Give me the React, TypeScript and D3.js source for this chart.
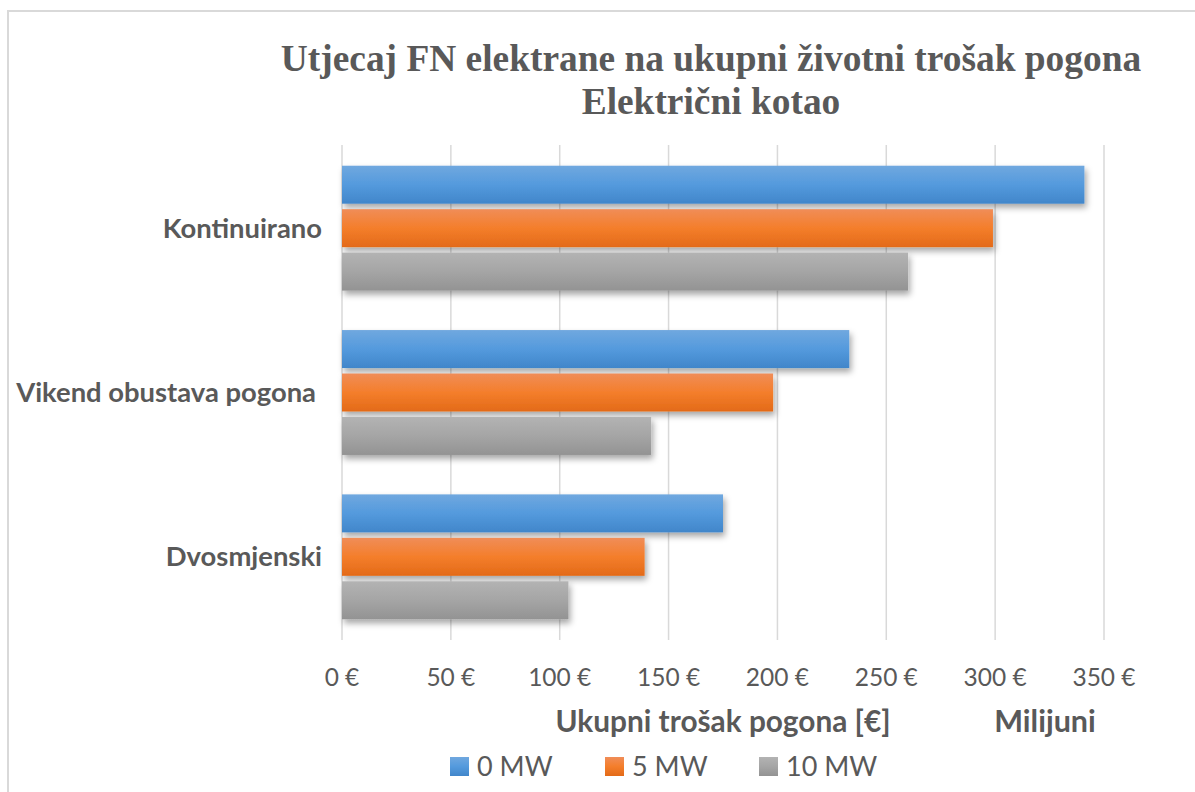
import React from "react";
import { scaleBand, scaleLinear } from "d3";

const categories = ["Kontinuirano", "Vikend obustava pogona", "Dvosmjenski"];
const seriesNames = ["0 MW", "5 MW", "10 MW"];
// values in millions of euro, one array per series
const values0MW = [341, 233, 175];
const values5MW = [299, 198, 139];
const values10MW = [260, 142, 104];
const xTicks = [0, 50, 100, 150, 200, 250, 300, 350];

const seriesValues = [values0MW, values5MW, values10MW];

const gradients = [
  { id: "gBlue", top: "#70a8df", mid: "#549add", bottom: "#4186ca" },
  { id: "gOrange", top: "#f08d58", mid: "#f47e2b", bottom: "#e36a18" },
  { id: "gGray", top: "#b3b3b3", mid: "#a5a5a5", bottom: "#939393" },
];

const textColor = "#595959";
const sans = "Lato, 'Open Sans', sans-serif";
const serif = "'Liberation Serif', 'Times New Roman', serif";

export default function App() {
  const width = 1195;
  const height = 792;

  const x = scaleLinear().domain([0, 350]).range([342, 1104]);
  const y = scaleBand<string>()
    .domain(categories)
    .range([146, 639])
    .paddingInner(0.24)
    .paddingOuter(0.12);
  const ySeries = scaleBand<string>()
    .domain(seriesNames)
    .range([0, y.bandwidth()])
    .paddingInner(0.126)
    .paddingOuter(0);

  const legendX = [450, 605, 759];

  return (
    <svg
      width={width}
      height={height}
      style={{ position: "absolute", left: 0, top: 0, background: "#fff" }}
    >
      <defs>
        {gradients.map((g) => (
          <linearGradient key={g.id} id={g.id} x1="0" y1="0" x2="0" y2="1">
            <stop offset="0%" stopColor={g.top} />
            <stop offset="50%" stopColor={g.mid} />
            <stop offset="100%" stopColor={g.bottom} />
          </linearGradient>
        ))}
        <filter id="shadow" x="-5%" y="-20%" width="115%" height="160%">
          <feDropShadow dx="2" dy="4" stdDeviation="3" floodColor="#000" floodOpacity="0.35" />
        </filter>
      </defs>

      {/* chart border */}
      <rect x={8} y={11} width={1300} height={900} fill="none" stroke="#d9d9d9" strokeWidth={2} />

      {/* title */}
      <text x={711} y={71} textAnchor="middle" fontFamily={serif} fontWeight="bold" fontSize={37.4} fill={textColor}>
        Utjecaj FN elektrane na ukupni životni trošak pogona
      </text>
      <text x={711} y={114} textAnchor="middle" fontFamily={serif} fontWeight="bold" fontSize={37.4} fill={textColor}>
        Električni kotao
      </text>

      {/* gridlines */}
      {xTicks.map((t) => (
        <line key={t} x1={x(t)} x2={x(t)} y1={145} y2={640} stroke="#d9d9d9" strokeWidth={1.5} />
      ))}

      {/* bars */}
      {categories.map((c, ci) => (
        <g key={c} transform={`translate(0,${y(c)})`}>
          {seriesNames.map((s, si) => (
            <rect
              key={s}
              x={x(0)}
              y={ySeries(s)}
              width={x(seriesValues[si][ci]) - x(0)}
              height={ySeries.bandwidth()}
              fill={`url(#${gradients[si].id})`}
              filter="url(#shadow)"
            />
          ))}
        </g>
      ))}

      {/* category labels */}
      {categories.map((c) => (
        <text
          key={c}
          x={c === "Vikend obustava pogona" ? 316 : 322}
          y={(y(c) as number) + y.bandwidth() / 2}
          dy="0.35em"
          textAnchor="end"
          fontFamily={sans}
          fontWeight="bold"
          fontSize={27.4}
          fill={textColor}
        >
          {c}
        </text>
      ))}

      {/* x tick labels */}
      {xTicks.map((t) => (
        <text key={t} x={x(t)} y={686} textAnchor="middle" fontFamily={sans} fontSize={24.5} fill={textColor}>
          {`${t} €`}
        </text>
      ))}

      {/* axis titles */}
      <text x={723} y={732} textAnchor="middle" fontFamily={sans} fontWeight="bold" fontSize={29.8} fill={textColor}>
        Ukupni trošak pogona [€]
      </text>
      <text x={1045} y={732} textAnchor="middle" fontFamily={sans} fontWeight="bold" fontSize={30.5} fill={textColor}>
        Milijuni
      </text>

      {/* legend */}
      {seriesNames.map((s, i) => (
        <g key={s} transform={`translate(${legendX[i]},757)`}>
          <rect width={19} height={19} fill={`url(#${gradients[i].id})`} />
          <text x={27} y={19} fontFamily={sans} fontSize={27} fill={textColor}>
            {s}
          </text>
        </g>
      ))}
    </svg>
  );
}
